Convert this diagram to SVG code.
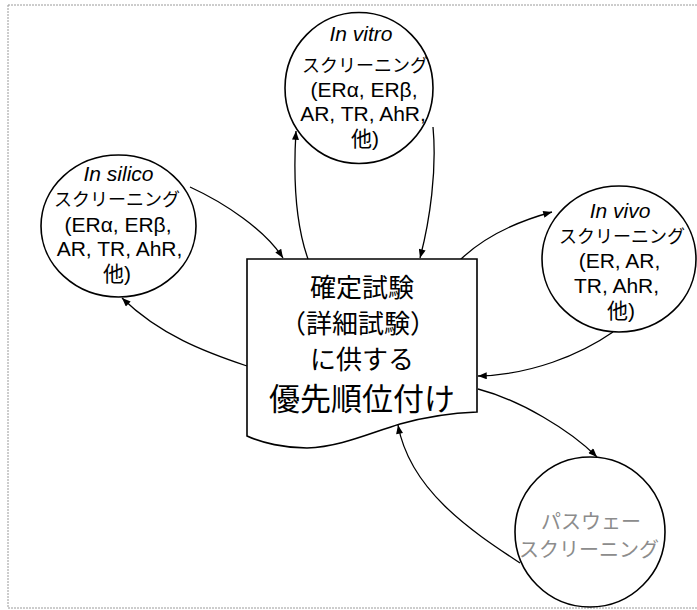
<svg xmlns="http://www.w3.org/2000/svg" width="697" height="610" viewBox="0 0 697 610">
<defs>
<marker id="arr" viewBox="0 0 10 8" refX="10" refY="4" markerWidth="10" markerHeight="7" markerUnits="userSpaceOnUse" orient="auto">
<path d="M0,0 L10,4 L0,8 Z" fill="#000"/>
</marker>
</defs>
<style>
.frame{fill:none;stroke:#9a9a9a;stroke-width:1;stroke-dasharray:2 1}
.node{fill:#fff;stroke:#000;stroke-width:1.6}
.conn{fill:none;stroke:#000;stroke-width:1.3;marker-end:url(#arr)}
.lat{font-family:"Liberation Sans",Arial,"Noto Sans CJK JP",sans-serif;font-size:21px;fill:#000;text-anchor:middle;dominant-baseline:central}
.it{font-style:italic}
.jp{font-family:"Noto Sans CJK JP","Liberation Sans",sans-serif;font-size:18px;fill:#000;text-anchor:middle;dominant-baseline:central}
.big{font-family:"Noto Sans CJK JP",sans-serif;fill:#000;text-anchor:middle;dominant-baseline:central}
.gray{font-family:"Noto Sans CJK JP",sans-serif;font-size:20px;fill:#8c8c8c;text-anchor:middle;dominant-baseline:central}
</style>
<rect class="frame" x="8" y="5" width="700" height="603"/>

<g id="connectors">
<path class="conn" d="M190,187 C225,203 265,230 283,258"/>
<path class="conn" d="M247,366 C205,352 160,335 122,298"/>
<path class="conn" d="M308,259 C296,225 293,180 296,131"/>
<path class="conn" d="M433,127 C437,170 430,220 420,258"/>
<path class="conn" d="M460,260 C485,236 515,222 552,212"/>
<path class="conn" d="M613,332 C580,355 530,375 478,376"/>
<path class="conn" d="M478,389 C520,400 570,430 597,457"/>
<path class="conn" d="M520,563 C470,530 410,490 398,425"/>
</g>

<g id="in-vitro">
<ellipse class="node" cx="359" cy="88" rx="74" ry="75.5"/>
<text class="lat it" x="361" y="33">In vitro</text>
<text class="jp" x="365" y="64">スクリーニング</text>
<text class="lat" x="364" y="89">(ERα, ERβ,</text>
<text class="lat" x="363" y="113">AR, TR, AhR,</text>
<text class="lat" x="365" y="138">他)</text>
</g>

<g id="in-silico">
<ellipse class="node" cx="118.5" cy="226" rx="77.5" ry="71"/>
<text class="lat it" x="118.5" y="173">In silico</text>
<text class="jp" x="117" y="198">スクリーニング</text>
<text class="lat" x="118" y="224">(ERα, ERβ,</text>
<text class="lat" x="119.5" y="248">AR, TR, AhR,</text>
<text class="lat" x="117" y="273">他)</text>
</g>

<g id="in-vivo">
<ellipse class="node" cx="619" cy="259" rx="77" ry="73"/>
<text class="lat it" x="620" y="210">In vivo</text>
<text class="jp" x="622" y="235">スクリーニング</text>
<text class="lat" x="619.5" y="260">(ER, AR,</text>
<text class="lat" x="616.5" y="285">TR, AhR,</text>
<text class="lat" x="621" y="310">他)</text>
</g>

<g id="pathway">
<ellipse class="node" cx="590" cy="532" rx="75" ry="75"/>
<text class="gray" x="591" y="520">パスウェー</text>
<text class="gray" x="589" y="548">スクリーニング</text>
</g>

<g id="priority">
<path class="node" d="M247,259 H477 V412 C450,413 425,417 400,424 C370,433 340,447 307,448 C285,448 262,443 247,436 Z"/>
<text class="big" x="362" y="285" font-size="26">確定試験</text>
<text class="big" x="358" y="321" font-size="26">（詳細試験）</text>
<text class="big" x="362" y="357" font-size="26">に供する</text>
<text class="big" x="362" y="396" font-size="31">優先順位付け</text>
</g>
</svg>
